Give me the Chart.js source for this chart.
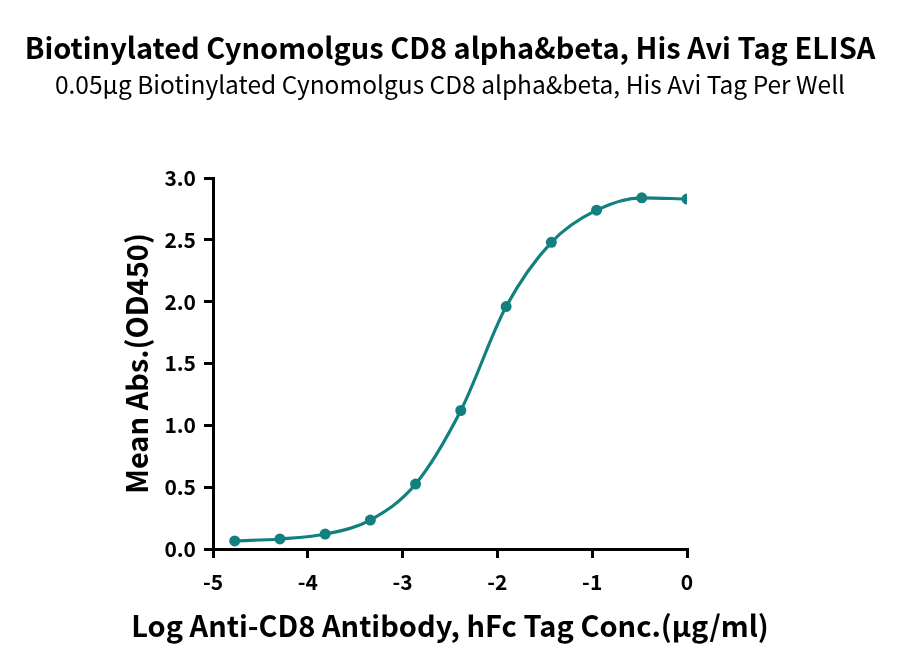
<!DOCTYPE html>
<html>
<head>
<meta charset="utf-8">
<script src="https://cdn.jsdelivr.net/npm/chart.js@4"></script>
<style>
  html, body { margin: 0; padding: 0; background: #fff; }
  #wrap { width: 900px; height: 672px; }
</style>
</head>
<body>
<div id="wrap"><canvas id="elisa" width="900" height="672"></canvas></div>
<script>
// log10 concentration (3-fold dilutions) and mean OD450
const logConc = [-4.771, -4.294, -3.817, -3.340, -2.863, -2.386, -1.908, -1.431, -0.954, -0.477, 0];
const meanAbs = [0.065, 0.081, 0.121, 0.234, 0.525, 1.12, 1.96, 2.48, 2.74, 2.84, 2.83];
const xTicks = [-5, -4, -3, -2, -1, 0];
const yTicks = [0, 0.5, 1.0, 1.5, 2.0, 2.5, 3.0];

const titleText = 'Biotinylated Cynomolgus CD8 alpha&beta, His Avi Tag ELISA';
const subtitleText = '0.05\u03bcg Biotinylated Cynomolgus CD8 alpha&beta, His Avi Tag Per Well';
const xTitleText = 'Log Anti-CD8 Antibody, hFc Tag Conc.(\u03bcg/ml)';

const teal = '#138080';
const fontFam = '"Noto Sans CJK SC", "Noto Sans", sans-serif';

// titles drawn centred on the canvas; the x title is drawn here too because
// chart.js squeezes a scale title to the axis width
const headerPlugin = {
    id: 'header',
    afterDraw(chart) {
        const ctx = chart.ctx;
        ctx.save();
        ctx.fillStyle = '#000';
        ctx.textAlign = 'center';
        ctx.textBaseline = 'middle';
        ctx.font = 'bold 29px ' + fontFam;
        ctx.fillText(titleText, 450, 48);
        ctx.font = '24.5px ' + fontFam;
        ctx.fillText(subtitleText, 450, 85);
        ctx.textBaseline = 'alphabetic';
        ctx.font = 'bold 29px ' + fontFam;
        ctx.fillText(xTitleText, 450, 637);
        ctx.restore();
    }
};

const points = logConc.map((x, i) => ({ x: x, y: meanAbs[i] }));

new Chart(document.getElementById('elisa').getContext('2d'), {
    type: 'line',
    data: {
        datasets: [{
            data: points,
            borderColor: teal,
            backgroundColor: teal,
            borderWidth: 3.2,
            pointRadius: 5.5,
            pointHoverRadius: 5.5,
            pointBackgroundColor: teal,
            pointBorderWidth: 0,
            cubicInterpolationMode: 'monotone',
            fill: false
        }]
    },
    options: {
        responsive: false,
        animation: false,
        layout: { padding: { top: 178, left: 120, right: 213, bottom: 27 } },
        plugins: {
            legend: { display: false },
            tooltip: { enabled: false }
        },
        scales: {
            x: {
                type: 'linear',
                min: -5,
                max: 0,
                afterBuildTicks: axis => { axis.ticks = xTicks.map(v => ({ value: v })); },
                afterFit: axis => { axis.height = 96; },
                grid: { drawOnChartArea: false, drawTicks: true, tickLength: 9, color: '#000', lineWidth: 3 },
                border: { color: '#000', width: 3 },
                ticks: { color: '#000', font: { family: fontFam, size: 21, weight: 'bold' }, padding: 11, maxRotation: 0 },
                title: { display: false }
            },
            y: {
                type: 'linear',
                min: 0,
                max: 3,
                afterBuildTicks: axis => { axis.ticks = yTicks.map(v => ({ value: v })); },
                afterFit: axis => { axis.width = 93; },
                grid: { drawOnChartArea: false, drawTicks: true, tickLength: 9, color: '#000', lineWidth: 3 },
                border: { color: '#000', width: 3 },
                ticks: {
                    color: '#000',
                    font: { family: fontFam, size: 21, weight: 'bold' },
                    padding: 8,
                    callback: v => v.toFixed(1)
                },
                title: {
                    display: true,
                    text: 'Mean Abs.(OD450)',
                    color: '#000',
                    font: { family: fontFam, size: 29, weight: 'bold' },
                    padding: 0
                }
            }
        }
    },
    plugins: [headerPlugin]
});
</script>
</body>
</html>
